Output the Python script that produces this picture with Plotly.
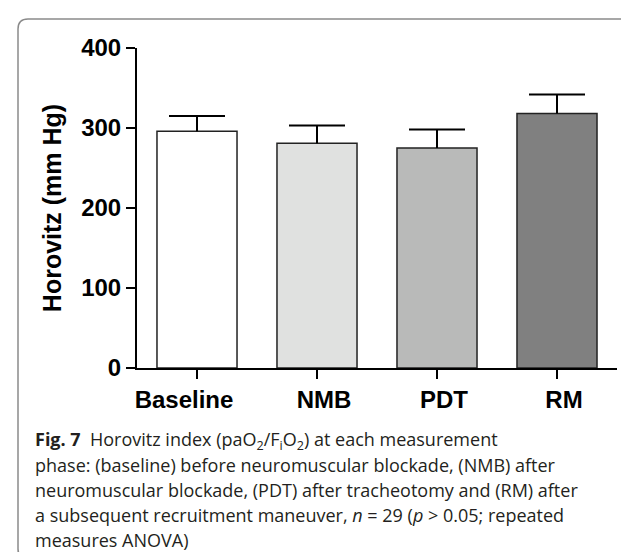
import plotly.graph_objects as go

categories = ["Baseline", "NMB", "PDT", "RM"]
means = [296, 281, 275, 318]
sem = [19, 22, 23, 24]
bar_colors = ["#ffffff", "#e0e1e0", "#b9bab9", "#808080"]
y_ticks = [0, 100, 200, 300, 400]
caption_lines = [
    "<b>Fig. 7</b>  Horovitz index (paO<sub>2</sub>/F<sub>i</sub>O<sub>2</sub>) at each measurement",
    "phase: (baseline) before neuromuscular blockade, (NMB) after",
    "neuromuscular blockade, (PDT) after tracheotomy and (RM) after",
    "a subsequent recruitment maneuver, <i>n</i> = 29 (<i>p</i> > 0.05; repeated",
    "measures ANOVA)",
]

W, H = 629, 552
ML, MR, MT, MB = 129, 20, 40, 192
PW, PH = W - ML - MR, H - MT - MB


def px(x):
    return (x - ML) / PW


def py(y):
    return (H - MB - y) / PH


err_tops = [m + s for m, s in zip(means, sem)]

fig = go.Figure()
fig.add_trace(go.Bar(
    x=categories, y=means,
    marker=dict(color=bar_colors, line=dict(color="#222222", width=1.5)),
    error_y=dict(type="data", array=sem, arrayminus=[0] * len(sem), symmetric=False,
                 color="#000000", thickness=2, width=0),
    width=0.667,
))
# caps of the (upper-only) error bars
fig.add_trace(go.Scatter(
    x=categories, y=err_tops, mode="markers",
    marker=dict(symbol="line-ew", size=40, line=dict(color="#000000", width=2)),
    hoverinfo="skip",
))

# rounded border
x0, x1, y0, y1, r = 10, 626, 11, 551, 10
path = (f"M {px(x0 + r)} {py(y0)} L {px(x1 - r)} {py(y0)} "
        f"Q {px(x1)} {py(y0)} {px(x1)} {py(y0 + r)} L {px(x1)} {py(y1 - r)} "
        f"Q {px(x1)} {py(y1)} {px(x1 - r)} {py(y1)} L {px(x0 + r)} {py(y1)} "
        f"Q {px(x0)} {py(y1)} {px(x0)} {py(y1 - r)} L {px(x0)} {py(y0 + r)} "
        f"Q {px(x0)} {py(y0)} {px(x0 + r)} {py(y0)} Z")

annotations = []
for i, line in enumerate(caption_lines):
    annotations.append(dict(
        text=line, xref="paper", yref="paper", x=px(25), y=py(432 + 25 * i),
        xanchor="left", yanchor="middle", showarrow=False,
        font=dict(family="Open Sans", size=18, color="#231f20"),
    ))

tick_text = ["Baseline" + "\u00a0" * 6, "NMB", "PDT", "RM"]

fig.update_layout(
    width=W, height=H,
    margin=dict(l=ML, r=MR, t=MT, b=MB, pad=0),
    paper_bgcolor="#ffffff", plot_bgcolor="#ffffff",
    showlegend=False,
    bargap=0.333,
    shapes=[dict(type="path", path=path, xref="paper", yref="paper",
                 line=dict(color="#8a8a8a", width=1.5))],
    annotations=annotations,
    xaxis=dict(
        range=[-0.5, 3.5], showline=True, linecolor="#000000", linewidth=2,
        tickmode="array", tickvals=categories, ticktext=tick_text, ticklabelshift=7,
        ticks="outside", ticklen=9, tickwidth=2, tickcolor="#000000",
        tickfont=dict(family="Liberation Sans", size=24, color="#000000", weight="bold"),
        showgrid=False, zeroline=False, fixedrange=True,
    ),
    yaxis=dict(
        range=[0, 400], tickvals=y_ticks, showline=True, linecolor="#000000", linewidth=2,
        ticks="outside", ticklen=9, tickwidth=2, tickcolor="#000000",
        tickfont=dict(family="Liberation Sans", size=24, color="#000000", weight="bold"),
        title=dict(text="Horovitz (mm Hg)", standoff=12,
                   font=dict(family="Liberation Sans", size=25, color="#000000", weight="bold")),
        showgrid=False, zeroline=False, fixedrange=True,
    ),
)

fig.write_html("out.html")
